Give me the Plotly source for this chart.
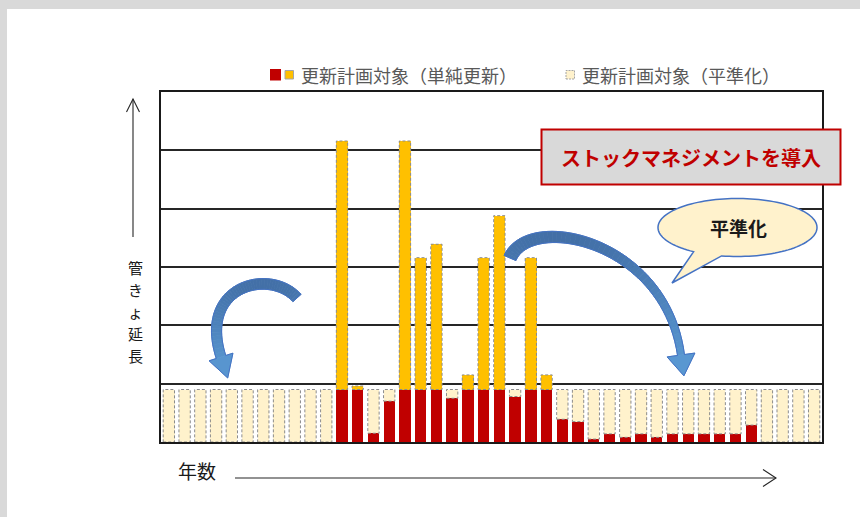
import numpy as np
import plotly.graph_objects as go

# ---- data -------------------------------------------------------------
years = list(range(1, 43))

# 単純更新のうち平準化水準以内の分（赤）
renewal_within = [0, 0, 0, 0, 0, 0, 0, 0, 0, 0, 0,
                  0.90, 0.90, 0.15, 0.70, 0.90, 0.90, 0.90, 0.75, 0.90, 0.90, 0.90, 0.78, 0.90, 0.90,
                  0.39, 0.35, 0.05, 0.14, 0.08, 0.14, 0.08, 0.14, 0.14, 0.14, 0.14, 0.14, 0.29,
                  0, 0, 0, 0]

# 単純更新で平準化水準を超える分（黄）
renewal_excess = [0, 0, 0, 0, 0, 0, 0, 0, 0, 0, 0,
                  4.26, 0.06, 0, 0, 4.26, 2.26, 2.49, 0, 0.25, 2.26, 2.98, 0, 2.26, 0.25,
                  0, 0, 0, 0, 0, 0, 0, 0, 0, 0, 0, 0, 0,
                  0, 0, 0, 0]

# 平準化後の更新計画の残り枠（淡黄）
leveled_rest = [0.90, 0.90, 0.90, 0.90, 0.90, 0.90, 0.90, 0.90, 0.90, 0.90, 0.90,
                0, 0, 0.75, 0.20, 0, 0, 0, 0.15, 0, 0, 0, 0.12, 0, 0,
                0.51, 0.55, 0.85, 0.76, 0.82, 0.76, 0.82, 0.76, 0.76, 0.76, 0.76, 0.76, 0.61,
                0.90, 0.90, 0.90, 0.90]

y_title_chars = ["管", "き", "ょ", "延", "長"]

RED = "#C00000"
YELLOW = "#FFC000"
PALE = "#FFF2CC"
EDGE = "#8C8C8C"
JP = "Noto Sans CJK JP"

# ---- plot area in pixels (used for the decorations) -------------------
W, H = 860, 517
L, R, T, B = 161, 822, 92, 442


def fx(x):
    return (x - L) / (R - L)


def fy(y):
    return (B - y) / (B - T)


def path_of(points, close=True):
    s = "M " + " L ".join(f"{fx(x):.5f},{fy(y):.5f}" for x, y in points)
    return s + (" Z" if close else "")


fig = go.Figure()
fig.add_bar(x=years, y=renewal_within, marker=dict(color=RED, line=dict(width=0)),
            name="更新計画対象（単純更新）")
fig.add_bar(x=years, y=renewal_excess, marker=dict(color=YELLOW, line=dict(width=0)),
            name="更新計画対象（単純更新）")
fig.add_bar(x=years, y=leveled_rest, marker=dict(color=PALE, line=dict(width=0)),
            name="更新計画対象（平準化）")

shapes = []
half = (1 - 0.28) / 2

# dashed outlines of the yellow and pale segments
for yr, base, ex, rest in zip(years, renewal_within, renewal_excess, leveled_rest):
    for seg in (ex, rest):
        if seg > 0:
            shapes.append(dict(type="rect", xref="x", yref="y",
                               x0=yr - half, x1=yr + half, y0=base, y1=base + seg,
                               line=dict(color=EDGE, width=1, dash="3px,2px"),
                               fillcolor="rgba(0,0,0,0)", layer="above"))

# ---- page frame ---------------------------------------------------------
shapes.append(dict(type="rect", xref="paper", yref="paper", x0=fx(0), x1=fx(W),
                   y0=fy(9), y1=fy(0), fillcolor="#D9D9D9", line=dict(width=0), layer="above"))
shapes.append(dict(type="rect", xref="paper", yref="paper", x0=fx(0), x1=fx(7),
                   y0=fy(H), y1=fy(0), fillcolor="#D9D9D9", line=dict(width=0), layer="above"))

# ---- axis arrows --------------------------------------------------------
AX = "#262626"
shapes.append(dict(type="path", xref="paper", yref="paper",
                   path=path_of([(133, 237), (133, 99)], close=False),
                   line=dict(color=AX, width=1.1), layer="above"))
shapes.append(dict(type="path", xref="paper", yref="paper",
                   path=path_of([(126.5, 112), (133, 99), (139.5, 112)], close=False),
                   line=dict(color=AX, width=1.1), layer="above"))
shapes.append(dict(type="path", xref="paper", yref="paper",
                   path=path_of([(235, 478), (776, 478)], close=False),
                   line=dict(color=AX, width=1.1), layer="above"))
shapes.append(dict(type="path", xref="paper", yref="paper",
                   path=path_of([(763, 469.5), (776, 478), (763, 486.5)], close=False),
                   line=dict(color=AX, width=1.1), layer="above"))


# ---- curved block arrows ------------------------------------------------
def curved_arrow(ctrl, w0, w1, head_w, head_len, n=48):
    P = np.array(ctrl, dtype=float)
    t = np.linspace(0, 1, n)[:, None]
    pts = ((1 - t) ** 3) * P[0] + 3 * ((1 - t) ** 2) * t * P[1] + 3 * (1 - t) * t ** 2 * P[2] + t ** 3 * P[3]
    d = 3 * ((1 - t) ** 2) * (P[1] - P[0]) + 6 * (1 - t) * t * (P[2] - P[1]) + 3 * t ** 2 * (P[3] - P[2])
    u = d / np.linalg.norm(d, axis=1)[:, None]
    nrm = np.stack([-u[:, 1], u[:, 0]], axis=1)
    w = (w0 + (w1 - w0) * t) / 2
    left = pts + nrm * w
    right = pts - nrm * w
    end, ue, ne = pts[-1], u[-1], nrm[-1]
    bl = end + ne * head_w / 2
    br = end - ne * head_w / 2
    tip = end + ue * head_len
    return left, right, (bl, tip, br)


DARK = np.array([66, 110, 165])
LIGHT = np.array([92, 156, 214])


def arrow_shapes(ctrl, w0, w1, head_w, head_len):
    left, right, head = curved_arrow(ctrl, w0, w1, head_w, head_len)
    ys = np.concatenate([left[:, 1], right[:, 1], [p[1] for p in head]])
    y_lo, y_hi = ys.min(), ys.max()
    out = []
    for i in range(len(left) - 1):
        quad = [left[i], left[i + 1], right[i + 1], right[i]]
        ym = np.mean([q[1] for q in quad])
        k = (ym - y_lo) / (y_hi - y_lo)
        c = (DARK + (LIGHT - DARK) * k).astype(int)
        col = f"rgb({c[0]},{c[1]},{c[2]})"
        out.append(dict(type="path", xref="paper", yref="paper", path=path_of(quad),
                        fillcolor=col, line=dict(color=col, width=0.8), layer="above"))
    hy = np.mean([p[1] for p in head])
    k = (hy - y_lo) / (y_hi - y_lo)
    c = (DARK + (LIGHT - DARK) * k).astype(int)
    col = f"rgb({c[0]},{c[1]},{c[2]})"
    out.append(dict(type="path", xref="paper", yref="paper", path=path_of(list(head)),
                    fillcolor=col, line=dict(color=col, width=0.8), layer="above"))
    outline = list(left) + [head[0], head[1], head[2]] + list(right[::-1])
    out.append(dict(type="path", xref="paper", yref="paper", path=path_of(outline),
                    fillcolor="rgba(0,0,0,0)", line=dict(color="#4472C4", width=1), layer="above"))
    return out


shapes += arrow_shapes([(297, 298), (270, 268), (198, 285), (221, 357)], 11, 10, 25, 22)
shapes += arrow_shapes([(510, 258), (530, 212), (665, 240), (681, 355)], 13, 7, 28, 21)

# ---- callout box --------------------------------------------------------
shapes.append(dict(type="rect", xref="paper", yref="paper",
                   x0=fx(541.5), x1=fx(840.5), y0=fy(184.5), y1=fy(129.5),
                   fillcolor="#D9D9D9", line=dict(color=RED, width=2), layer="above"))

# ---- speech bubble ------------------------------------------------------
cx, cy, rx, ry = 737.5, 227.5, 79.5, 29
ang = np.radians(np.linspace(123.5, 461.6, 120))
bubble = [(cx + rx * np.cos(a), cy + ry * np.sin(a)) for a in ang] + [(672, 283)]
shapes.append(dict(type="path", xref="paper", yref="paper", path=path_of(bubble),
                   fillcolor=PALE, line=dict(color="#4472C4", width=1.5), layer="above"))

# ---- legend -------------------------------------------------------------
shapes.append(dict(type="rect", xref="paper", yref="paper", x0=fx(270), x1=fx(281),
                   y0=fy(80.5), y1=fy(69), fillcolor=RED, line=dict(width=0), layer="above"))
shapes.append(dict(type="rect", xref="paper", yref="paper", x0=fx(285), x1=fx(293.5),
                   y0=fy(79), y1=fy(70.5), fillcolor=YELLOW,
                   line=dict(color="#A6A6A6", width=1), layer="above"))
shapes.append(dict(type="rect", xref="paper", yref="paper", x0=fx(566), x1=fx(574.5),
                   y0=fy(79), y1=fy(70.5), fillcolor=PALE,
                   line=dict(color="#A6A6A6", width=1, dash="2px,1px"), layer="above"))

annotations = [
    dict(x=fx(299), y=fy(75), text="更新計画対象（単純更新）", xanchor="left", yanchor="middle",
         font=dict(family=JP, size=18, color="#595959")),
    dict(x=fx(580), y=fy(75), text="更新計画対象（平準化）", xanchor="left", yanchor="middle",
         font=dict(family=JP, size=18, color="#595959")),
    dict(x=fx(691), y=fy(157), text="<b>ストックマネジメントを導入</b>", xanchor="center",
         yanchor="middle", font=dict(family=JP, size=20, color=RED)),
    dict(x=fx(738), y=fy(227), text="<b>平準化</b>", xanchor="center", yanchor="middle",
         font=dict(family=JP, size=19, color="#1A1A1A")),
    dict(x=fx(197), y=fy(471), text="年数", xanchor="center", yanchor="middle",
         font=dict(family=JP, size=19, color="#1A1A1A")),
]

# vertical axis title, characters stacked top to bottom
pitch = 22
for k, ch in enumerate(y_title_chars):
    yy = 311.5 + (k - 2) * pitch
    annotations.append(dict(x=fx(135), y=fy(yy), text=ch, xanchor="center", yanchor="middle",
                            font=dict(family=JP, size=15, color="#1A1A1A")))

for a in annotations:
    a.update(xref="paper", yref="paper", showarrow=False)

fig.update_layout(
    width=W, height=H,
    margin=dict(l=L, r=W - R, t=T, b=H - B, pad=0),
    barmode="stack", bargap=0.28,
    showlegend=False,
    plot_bgcolor="white", paper_bgcolor="white",
    shapes=shapes, annotations=annotations,
    xaxis=dict(range=[0.5, 42.5], showticklabels=False, ticks="", showgrid=False,
               zeroline=False, showline=True, mirror=True, linecolor="#1A1A1A", linewidth=1.5),
    yaxis=dict(range=[0, 6], dtick=1, showticklabels=False, ticks="", showgrid=True,
               gridcolor="#262626", gridwidth=1.5, zeroline=False,
               showline=True, mirror=True, linecolor="#1A1A1A", linewidth=1.5),
)

fig.write_html("out.html", config={"displayModeBar": False})
